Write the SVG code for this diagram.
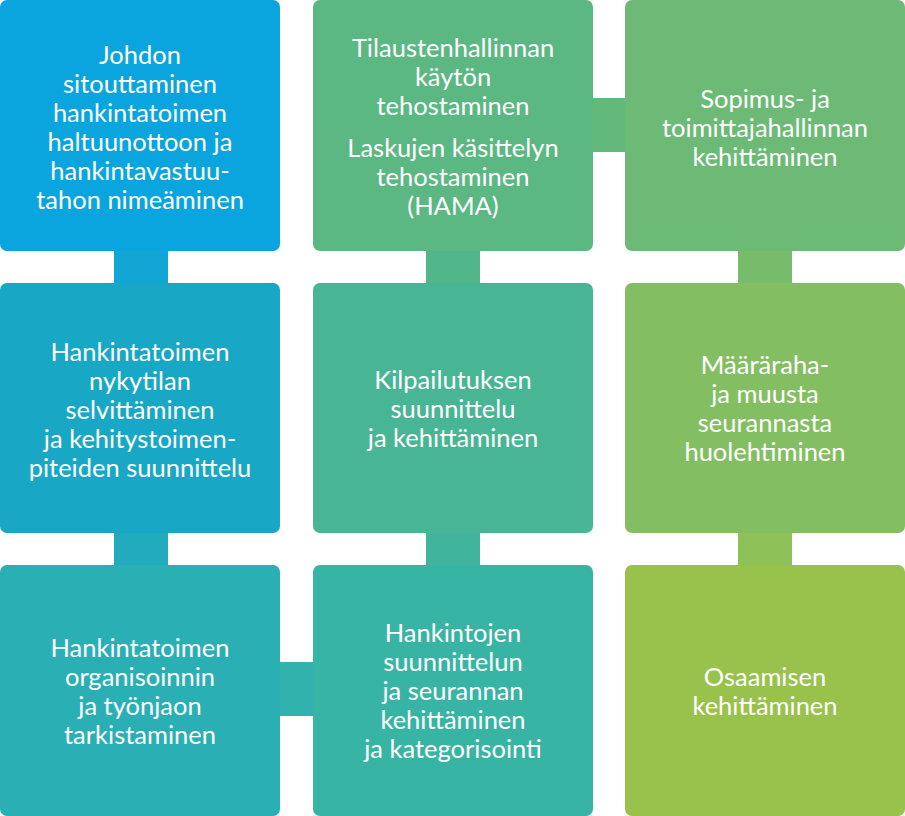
<svg xmlns="http://www.w3.org/2000/svg" width="905" height="816" viewBox="0 0 905 816">
<style>
text{font-family:Lato,"Liberation Sans",sans-serif;font-size:25.5px;fill:#fff;text-anchor:middle}
</style>
<rect width="905" height="816" fill="#fff"/>
<g id="connectors">
<rect x="114" y="248" width="54" height="38" fill="#11A6D3"/>
<rect x="114" y="530" width="54" height="38" fill="#22ABBD"/>
<rect x="277" y="662" width="39" height="54" fill="#31B2AD"/>
<rect x="426" y="530" width="54" height="38" fill="#40B49C"/>
<rect x="426" y="248" width="54" height="38" fill="#52B68B"/>
<rect x="589" y="98" width="39" height="54" fill="#63B97C"/>
<rect x="738" y="248" width="54" height="38" fill="#77BC6B"/>
<rect x="738" y="530" width="54" height="38" fill="#8EC157"/>
</g>
<g id="n1"><rect x="0" y="0" width="280" height="251" rx="7" fill="#0AA5DF"/>
<text x="140" y="64">Johdon</text><text x="140" y="93">sitouttaminen</text><text x="140" y="122">hankintatoimen</text><text x="140" y="151">haltuunottoon ja</text><text x="140" y="180">hankintavastuu-</text><text x="140" y="209">tahon nimeäminen</text></g>
<g id="n2"><rect x="0" y="283" width="280" height="250" rx="7" fill="#19A7C6"/>
<text x="140" y="361">Hankintatoimen</text><text x="140" y="390">nykytilan</text><text x="140" y="419">selvittäminen</text><text x="140" y="448">ja kehitystoimen-</text><text x="140" y="477">piteiden suunnittelu</text></g>
<g id="n3"><rect x="0" y="565" width="280" height="251" rx="7" fill="#2AAFB5"/>
<text x="140" y="657">Hankintatoimen</text><text x="140" y="686">organisoinnin</text><text x="140" y="715">ja työnjaon</text><text x="140" y="744">tarkistaminen</text></g>
<g id="n4"><rect x="313" y="565" width="280" height="251" rx="7" fill="#38B4A5"/>
<text x="453" y="642">Hankintojen</text><text x="453" y="671">suunnittelun</text><text x="453" y="700">ja seurannan</text><text x="453" y="729">kehittäminen</text><text x="453" y="758">ja kategorisointi</text></g>
<g id="n5"><rect x="313" y="283" width="280" height="250" rx="7" fill="#48B594"/>
<text x="453" y="389">Kilpailutuksen</text><text x="453" y="418">suunnittelu</text><text x="453" y="447">ja kehittäminen</text></g>
<g id="n6"><rect x="313" y="0" width="280" height="251" rx="7" fill="#5BB883"/>
<text x="453" y="57">Tilaustenhallinnan</text><text x="453" y="86">käytön</text><text x="453" y="115">tehostaminen</text><text x="453" y="157">Laskujen käsittelyn</text><text x="453" y="186">tehostaminen</text><text x="453" y="215">(HAMA)</text></g>
<g id="n7"><rect x="625" y="0" width="280" height="251" rx="7" fill="#6CBA75"/>
<text x="765" y="108">Sopimus- ja</text><text x="765" y="137">toimittajahallinnan</text><text x="765" y="166">kehittäminen</text></g>
<g id="n8"><rect x="625" y="283" width="280" height="250" rx="7" fill="#83BF62"/>
<text x="765" y="374">Määräraha-</text><text x="765" y="403">ja muusta</text><text x="765" y="432">seurannasta</text><text x="765" y="461">huolehtiminen</text></g>
<g id="n9"><rect x="625" y="565" width="280" height="251" rx="7" fill="#99C24D"/>
<text x="765" y="686">Osaamisen</text><text x="765" y="715">kehittäminen</text></g>
</svg>
